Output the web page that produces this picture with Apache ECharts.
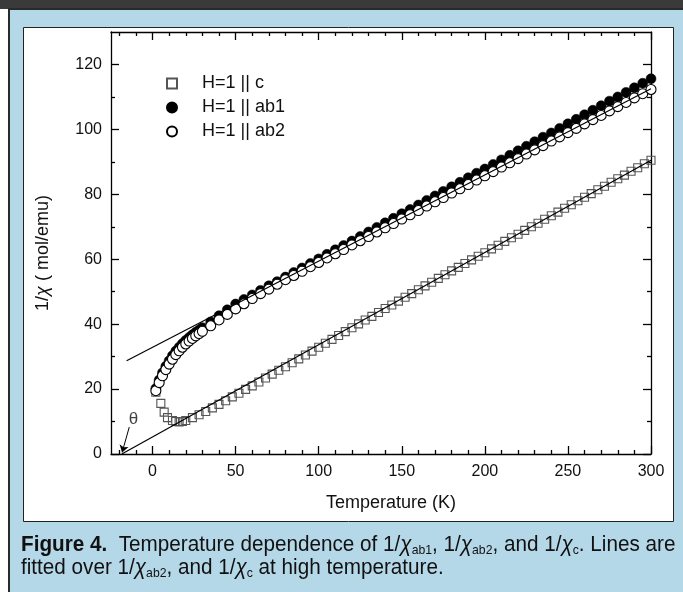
<!DOCTYPE html>
<html>
<head>
<meta charset="utf-8">
<script src="https://cdn.jsdelivr.net/npm/echarts@6/dist/echarts.min.js"></script>
<style>
html, body { margin: 0; padding: 0; background: #fff; }
#chart { width: 683px; height: 592px; }
</style>
</head>
<body>
<div id="chart"></div>
<script>
// temperatures (K) of the ab measurements
var tempsAb = [2, 4, 6, 8, 10, 12, 14, 16, 18, 20, 22, 24, 26, 28, 30,
    35, 40, 45, 50, 55, 60, 65, 70, 75, 80, 85, 90, 95, 100, 105, 110, 115, 120, 125, 130,
    135, 140, 145, 150, 155, 160, 165, 170, 175, 180, 185, 190, 195, 200, 205, 210, 215, 220,
    225, 230, 235, 240, 245, 250, 255, 260, 265, 270, 275, 280, 285, 290, 295, 300];
// 1/chi, H || ab1 (filled circles)
var ab1 = [20.2, 22.8, 25.0, 27.0, 28.7, 30.3, 31.7, 32.9, 34.0, 35.0, 35.9, 36.7, 37.5, 38.2, 38.9,
    40.7, 42.6, 44.4, 46.2, 47.6, 49.0, 50.4, 51.8, 53.1, 54.5, 55.9, 57.3, 58.7, 60.1, 61.5, 62.9, 64.2, 65.6, 67.0, 68.4,
    69.8, 71.2, 72.6, 74.0, 75.3, 76.7, 78.1, 79.5, 80.9, 82.3, 83.7, 85.1, 86.5, 87.8, 89.2, 90.6, 92.0, 93.4,
    94.8, 96.2, 97.6, 98.9, 100.3, 101.7, 103.1, 104.5, 105.9, 107.3, 108.7, 110.0, 111.4, 112.8, 114.2, 115.6];
// 1/chi, H || ab2 (open circles)
var ab2 = [19.5, 22.0, 24.1, 26.0, 27.7, 29.2, 30.6, 31.8, 32.9, 33.9, 34.8, 35.6, 36.4, 37.1, 37.8,
    39.5, 41.3, 43.0, 44.7, 46.3, 47.9, 49.4, 50.8, 52.3, 53.7, 55.0, 56.3, 57.7, 59.0, 60.4, 61.7, 63.0, 64.4, 65.7, 67.0,
    68.4, 69.7, 71.0, 72.4, 73.7, 75.0, 76.4, 77.7, 79.0, 80.4, 81.7, 83.0, 84.4, 85.7, 87.0, 88.4, 89.7, 91.0,
    92.4, 93.7, 95.0, 96.4, 97.7, 99.0, 100.3, 101.7, 103.0, 104.3, 105.7, 107.0, 108.3, 109.7, 111.0, 112.3];
// temperatures (K) of the c measurements
var tempsC = [2, 5, 7, 9, 12, 14, 16, 18, 20,
    24, 28, 32, 36, 40, 44, 48, 52, 56, 60, 64, 68, 72, 76, 80, 84, 88, 92, 96, 100,
    104, 108, 112, 116, 120, 124, 128, 132, 136, 140, 144, 148, 152, 156, 160, 164, 168, 172, 176, 180,
    184, 188, 192, 196, 200, 204, 208, 212, 216, 220, 224, 228, 232, 236, 240, 244, 248, 252, 256, 260,
    264, 268, 272, 276, 280, 284, 288, 292, 296, 300];
// 1/chi, H || c (open squares)
var cVals = [19.0, 15.6, 12.9, 11.2, 10.3, 10.0, 9.9, 10.0, 10.3,
    11.2, 12.1, 13.1, 14.2, 15.3, 16.4, 17.6, 18.7, 19.9, 21.0, 22.2, 23.4, 24.6, 25.8, 26.9, 28.1, 29.3, 30.5, 31.7, 32.9,
    34.1, 35.3, 36.5, 37.7, 38.9, 40.1, 41.3, 42.4, 43.6, 44.8, 45.9, 47.1, 48.3, 49.4, 50.6, 51.8, 52.9, 54.1, 55.2, 56.4,
    57.5, 58.7, 59.8, 60.9, 62.0, 63.2, 64.3, 65.5, 66.6, 67.7, 68.9, 70.0, 71.1, 72.3, 73.4, 74.5, 75.7, 76.8, 78.0, 79.1,
    80.2, 81.4, 82.5, 83.7, 84.8, 85.9, 87.1, 88.2, 89.4, 90.5];
// Curie-Weiss fit lines (end points)
var fitAbT = [-15.6, 300], fitAbV = [28.7, 112.5];
var fitCT = [-18.5, 300], fitCV = [0, 90.5];
// theta arrow and its label
var arrowFrom = [-14, 8.3], arrowTo = [-18.3, 0.5];
var thetaAt = [-11.5, 10.8];
// ticks
var xMajor = [0, 50, 100, 150, 200, 250, 300];
var xMinor = [-20, -10, 10, 20, 30, 40, 60, 70, 80, 90, 110, 120, 130, 140, 160, 170, 180, 190,
    210, 220, 230, 240, 260, 270, 280, 290];
var yMajor = [0, 20, 40, 60, 80, 100, 120];
var yMinor = [10, 30, 50, 70, 90, 110];

function pairs(xs, ys) {
    return xs.map(function (x, i) { return [x, ys[i]]; });
}

var font = "'Liberation Sans', Arial, Helvetica, sans-serif";
var lineBlack = { color: '#000', width: 1.3 };

// one axis per side for the long ticks, one for the short ticks
function xAxisOf(position, ticks, len, withLine, withLabel) {
    return {
        type: 'value', gridIndex: 0, position: position, min: -25, max: 300,
        axisLine: { show: withLine, onZero: false, lineStyle: lineBlack },
        axisTick: { show: true, inside: true, length: len, customValues: ticks, lineStyle: lineBlack },
        axisLabel: withLabel ? { show: true, customValues: xMajor, margin: 10, color: '#111', fontSize: 16, fontFamily: font } : { show: false },
        splitLine: { show: false },
        name: withLabel ? 'Temperature (K)' : '',
        nameLocation: 'middle', nameGap: 40,
        nameTextStyle: { fontSize: 18, color: '#111', fontFamily: font, padding: [0, 0, 0, 20] }
    };
}
function yAxisOf(position, ticks, len, withLine, withLabel) {
    return {
        type: 'value', gridIndex: 0, position: position, min: 0, max: 130,
        axisLine: { show: withLine, onZero: false, lineStyle: lineBlack },
        axisTick: { show: true, inside: true, length: len, customValues: ticks, lineStyle: lineBlack },
        axisLabel: withLabel ? { show: true, customValues: yMajor, margin: 9, color: '#111', fontSize: 16, fontFamily: font } : { show: false },
        splitLine: { show: false }
    };
}

var captionRich = {
    b: { fontWeight: 'bold', fontSize: 22, fontFamily: font, lineHeight: 24 },
    i: { fontStyle: 'italic', fontSize: 22, fontFamily: font, lineHeight: 24 },
    s: { fontSize: 13, fontFamily: font, lineHeight: 12, verticalAlign: 'bottom' }
};

var chart = echarts.init(document.getElementById('chart'));

var option = {
    animation: false,
    backgroundColor: '#fff',
    graphic: [
        // outer frame and blue caption box
        { type: 'rect', z: -10, shape: { x: 0, y: 0, width: 683, height: 9 }, style: { fill: '#3a3a3a' } },
        { type: 'rect', z: -10, shape: { x: 9, y: 9, width: 700, height: 600 }, style: { fill: '#b5d8e8', stroke: '#2a2a2a', lineWidth: 2 } },
        { type: 'rect', z: -9, shape: { x: 23.5, y: 27.5, width: 650, height: 494 }, style: { fill: '#fff', stroke: '#222', lineWidth: 1 } },
        {
            type: 'text', x: 43, y: 253, rotation: Math.PI / 2,
            style: {
                text: '1/{i|χ} ( mol/emu)', align: 'center', verticalAlign: 'middle',
                fontSize: 18, fontFamily: font, fill: '#111',
                rich: { i: { fontStyle: 'italic', fontSize: 18, fontFamily: font, fill: '#111' } }
            }
        },
        {
            type: 'text', x: 21, y: 533, scaleX: 0.94,
            style: {
                text: '{b|Figure 4.}  Temperature dependence of 1/{i|χ}{s|ab1}, 1/{i|χ}{s|ab2}, and 1/{i|χ}{s|c}. Lines are',
                fontSize: 22, fontFamily: font, fill: '#111', lineHeight: 24, rich: captionRich
            }
        },
        {
            type: 'text', x: 21, y: 556, scaleX: 0.94,
            style: {
                text: 'fitted over 1/{i|χ}{s|ab2}, and 1/{i|χ}{s|c} at high temperature.',
                fontSize: 22, fontFamily: font, fill: '#111', lineHeight: 24, rich: captionRich
            }
        }
    ],
    grid: { left: 111, top: 32, right: 32, bottom: 138 },
    legend: {
        orient: 'vertical', left: 161, top: 68,
        itemWidth: 10, itemHeight: 10, itemGap: 3,
        data: ['H=1 || c', 'H=1 || ab1', 'H=1 || ab2'],
        textStyle: { fontSize: 18, color: '#111', fontFamily: font, lineHeight: 21, padding: [0, 0, 0, 20] }
    },
    xAxis: [
        xAxisOf('bottom', xMajor, 8, true, true),
        xAxisOf('bottom', xMinor, 4, false, false),
        xAxisOf('top', xMajor, 8, true, false),
        xAxisOf('top', xMinor, 4, false, false)
    ],
    yAxis: [
        yAxisOf('left', yMajor, 8, true, true),
        yAxisOf('left', yMinor, 4, false, false),
        yAxisOf('right', yMajor, 8, true, false),
        yAxisOf('right', yMinor, 4, false, false)
    ],
    series: [
        {
            name: 'H=1 || c', type: 'scatter', symbol: 'rect', symbolSize: 8,
            data: pairs(tempsC, cVals), z: 2,
            itemStyle: { color: 'rgba(255,255,255,0)', borderColor: '#555', borderWidth: 1.1, opacity: 1 }
        },
        {
            name: 'H=1 || ab1', type: 'scatter', symbol: 'circle', symbolSize: 10,
            data: pairs(tempsAb, ab1), z: 2,
            itemStyle: { color: '#000', borderColor: '#000', borderWidth: 0.5, opacity: 1 }
        },
        {
            name: 'H=1 || ab2', type: 'scatter', symbol: 'circle', symbolSize: 10,
            data: pairs(tempsAb, ab2), z: 3,
            itemStyle: { color: '#fff', borderColor: '#000', borderWidth: 1.1, opacity: 1 }
        },
        {
            name: 'fit ab2', type: 'line', data: pairs(fitAbT, fitAbV), z: 4,
            symbol: 'none', lineStyle: { color: '#000', width: 1.2 }
        },
        {
            name: 'fit c', type: 'line', data: pairs(fitCT, fitCV), z: 4,
            symbol: 'none', lineStyle: { color: '#000', width: 1.2 },
            markLine: {
                silent: true, symbol: ['none', 'arrow'], symbolSize: 7,
                lineStyle: { color: '#000', width: 1, type: 'solid' },
                label: { show: false },
                data: [[{ coord: arrowFrom }, { coord: arrowTo }]]
            }
        },
        {
            name: 'theta', type: 'scatter', symbolSize: 0, z: 5,
            data: [thetaAt],
            label: { show: true, position: 'inside', formatter: 'θ', fontSize: 17, color: '#111', fontFamily: font }
        }
    ]
};

chart.setOption(option);
</script>
</body>
</html>
